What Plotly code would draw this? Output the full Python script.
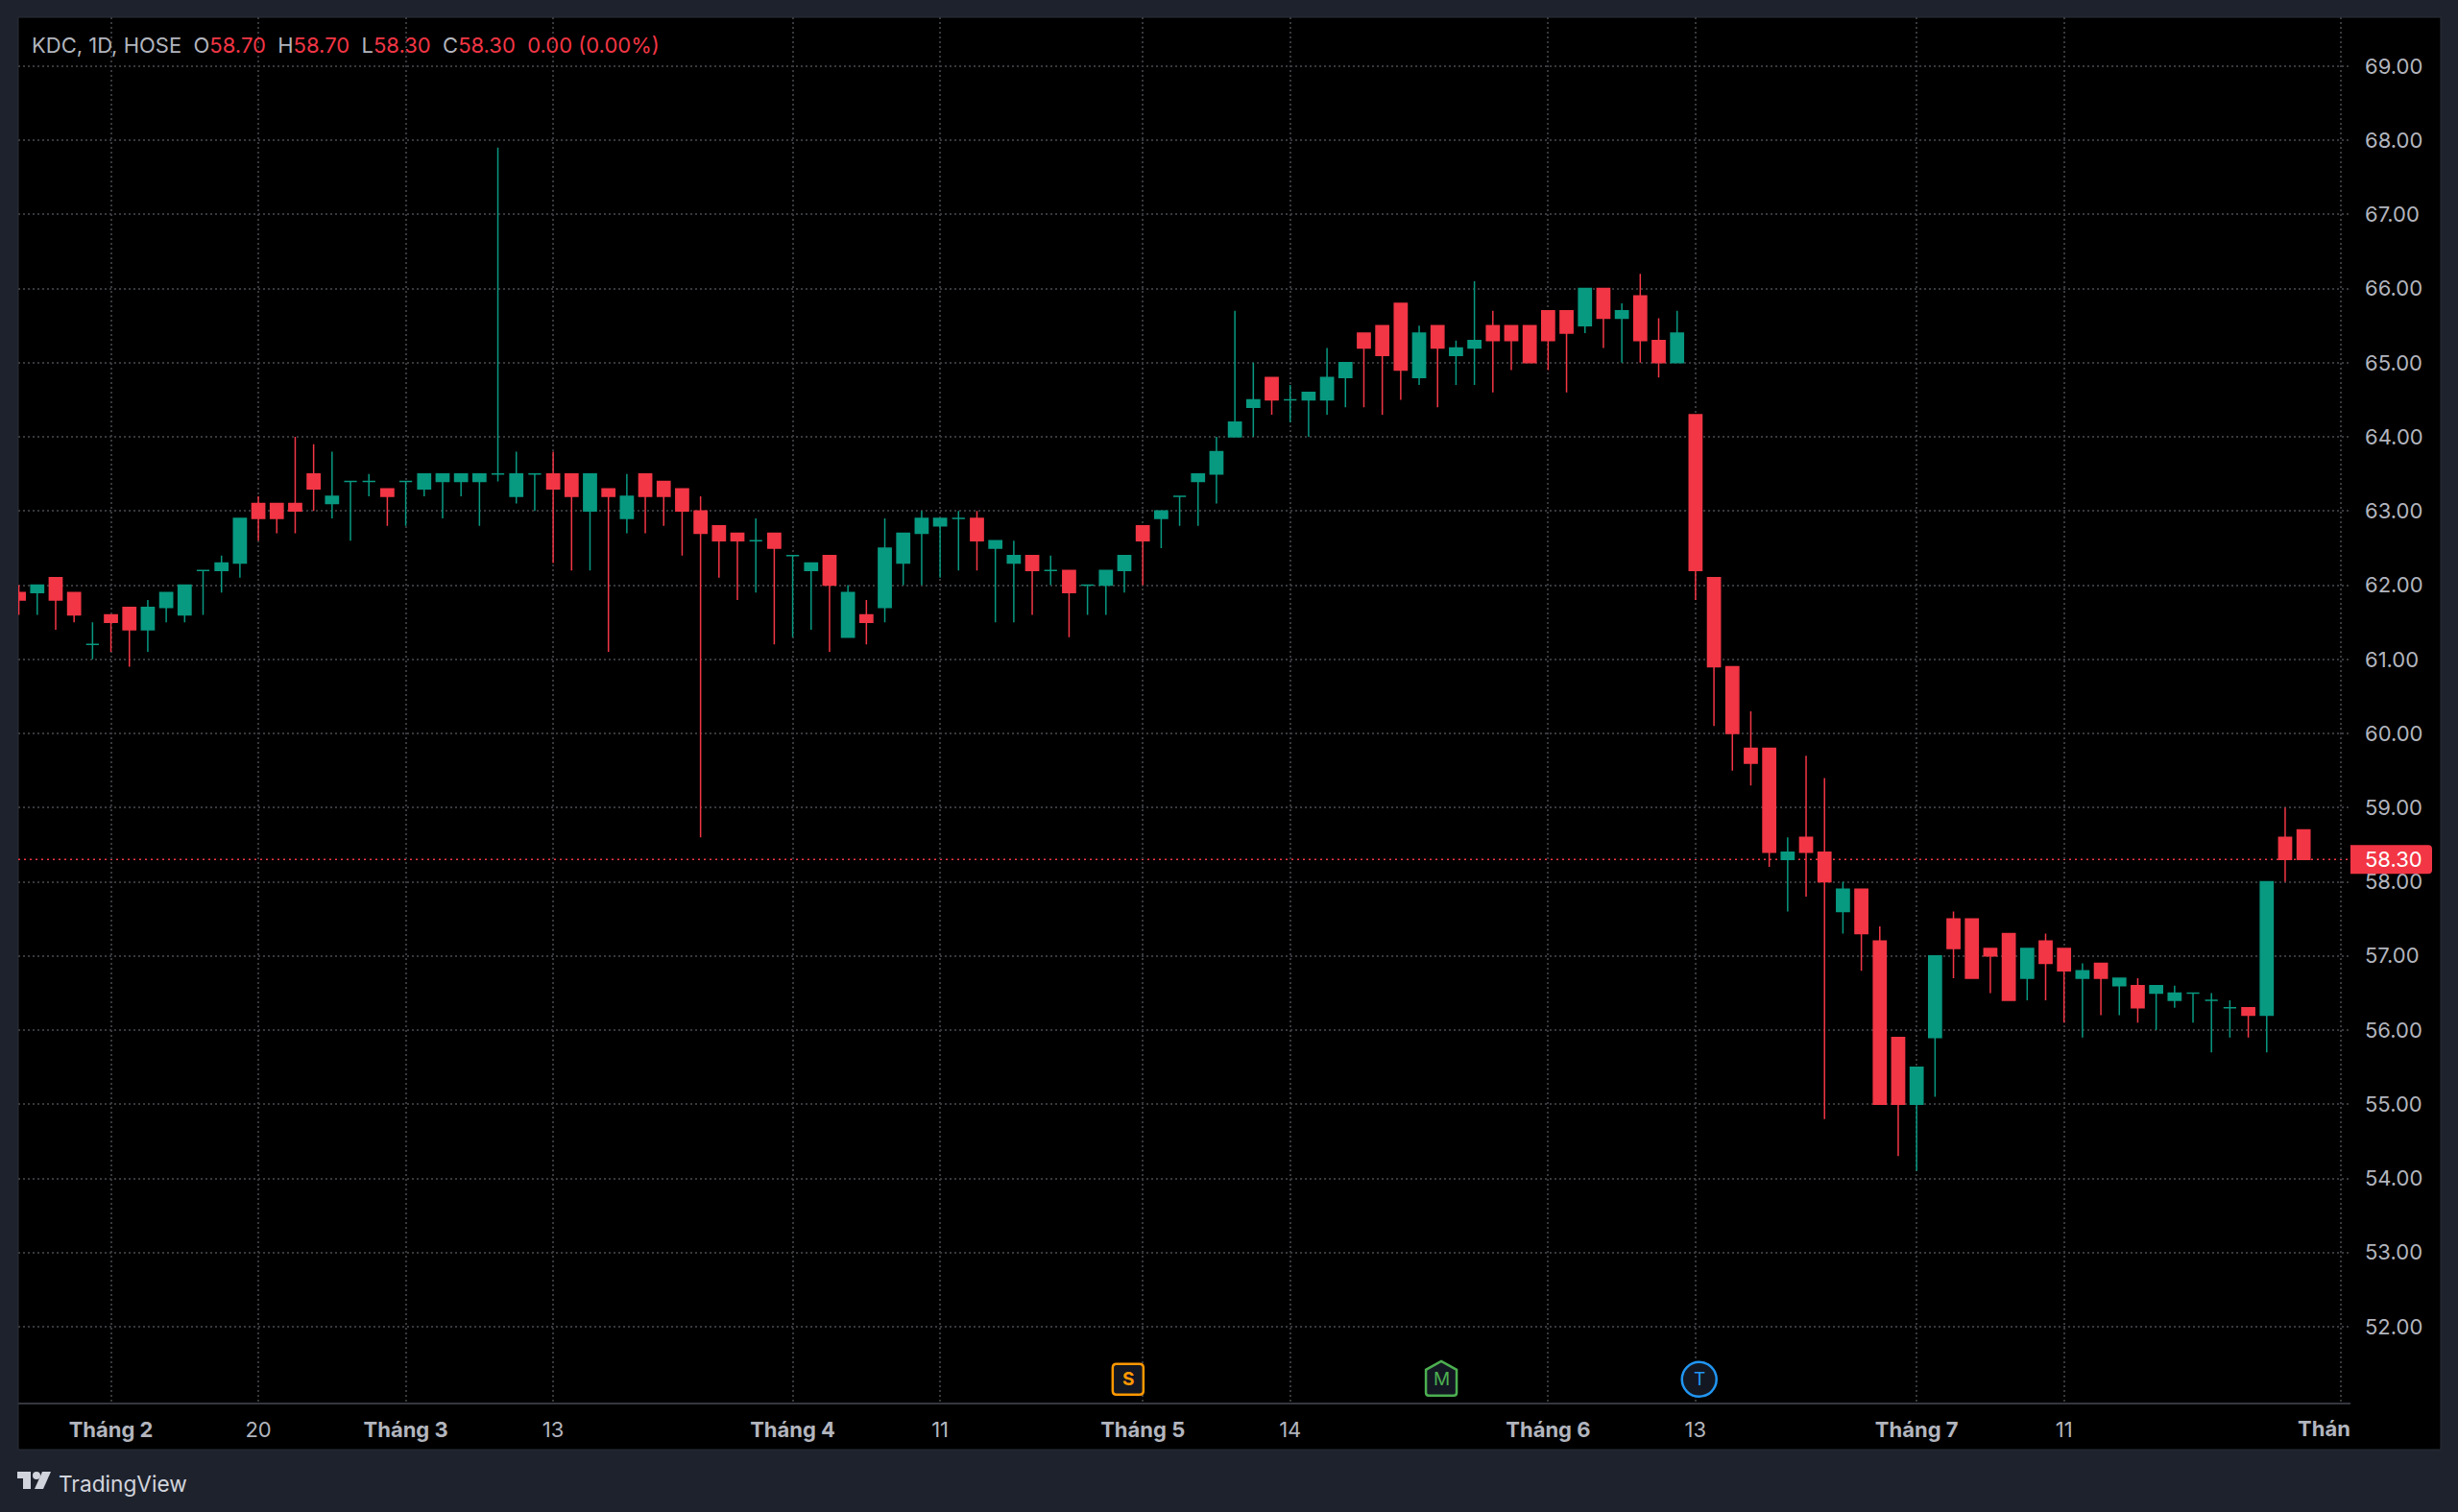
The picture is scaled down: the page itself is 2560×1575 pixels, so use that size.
import plotly.graph_objects as go

# OHLC, one entry per trading session
opens = [61.9,61.9,62.1,61.9,61.2,61.6,61.7,61.4,61.7,61.6,62.2,62.2,62.3,63.1,63.1,63.1,63.5,63.1,63.4,63.4,
         63.3,63.4,63.3,63.4,63.4,63.4,63.5,63.2,63.5,63.5,63.5,63.0,63.3,62.9,63.5,63.4,63.3,63.0,62.8,62.7,
         62.6,62.7,62.4,62.2,62.4,61.3,61.6,61.7,62.3,62.7,62.8,62.9,62.9,62.5,62.3,62.4,62.2,62.2,62.0,62.0,
         62.2,62.8,62.9,63.2,63.4,63.5,64.0,64.4,64.8,64.5,64.5,64.5,64.8,65.4,65.5,65.8,64.8,65.5,65.1,65.2,
         65.5,65.5,65.5,65.7,65.7,65.5,66.0,65.6,65.9,65.3,65.0,64.3,62.1,60.9,59.8,59.8,58.3,58.6,58.4,57.6,
         57.9,57.2,55.9,55.0,55.9,57.5,57.5,57.1,57.3,56.7,57.2,57.1,56.7,56.9,56.6,56.6,56.5,56.4,56.5,56.4,
         56.3,56.3,56.2,58.6,58.7]
highs = [62.0,62.0,62.1,61.9,61.5,61.6,61.7,61.8,61.9,62.0,62.2,62.4,62.9,63.2,63.1,64.0,63.9,63.8,63.4,63.5,
         63.3,63.4,63.5,63.5,63.5,63.5,67.9,63.8,63.5,63.8,63.5,63.5,63.3,63.5,63.5,63.4,63.3,63.2,62.8,62.7,
         62.9,62.7,62.4,62.3,62.4,62.0,61.8,62.9,62.7,63.0,62.9,63.0,63.0,62.6,62.6,62.4,62.4,62.2,62.0,62.2,
         62.4,62.8,63.0,63.2,63.5,64.0,65.7,65.0,64.8,64.7,64.6,65.2,65.0,65.4,65.5,65.8,65.5,65.5,65.3,66.1,
         65.7,65.5,65.5,65.7,65.7,66.0,66.0,65.8,66.2,65.6,65.7,64.3,62.1,60.9,60.3,59.8,58.6,59.7,59.4,58.0,
         57.9,57.4,55.9,55.5,57.0,57.6,57.5,57.1,57.3,57.1,57.3,57.1,56.9,56.9,56.7,56.7,56.6,56.6,56.5,56.5,
         56.4,56.3,58.0,59.0,58.7]
lows = [61.6,61.6,61.4,61.5,61.0,61.1,60.9,61.1,61.5,61.5,61.6,61.9,62.1,62.6,62.7,62.7,63.0,62.9,62.6,63.2,
        62.8,62.8,63.2,62.9,63.2,62.8,63.4,63.1,63.0,62.3,62.2,62.2,61.1,62.7,62.7,62.8,62.4,58.6,62.1,61.8,
        61.9,61.2,61.3,61.4,61.1,61.3,61.2,61.5,62.0,62.0,62.1,62.2,62.2,61.5,61.5,61.6,62.0,61.3,61.6,61.6,
        61.9,62.0,62.5,62.8,62.8,63.1,64.0,64.0,64.3,64.2,64.0,64.3,64.4,64.4,64.3,64.5,64.7,64.4,64.7,64.7,
        64.6,64.9,65.0,64.9,64.6,65.4,65.2,65.0,65.0,64.8,65.0,61.8,60.1,59.5,59.3,58.2,57.6,57.8,54.8,57.3,
        56.8,55.0,54.3,54.1,55.1,56.7,56.7,56.5,56.4,56.4,56.4,56.1,55.9,56.2,56.2,56.1,56.0,56.3,56.1,55.7,
        55.9,55.9,55.7,58.0,58.3]
closes = [61.8,62.0,61.8,61.6,61.2,61.5,61.4,61.7,61.9,62.0,62.2,62.3,62.9,62.9,62.9,63.0,63.3,63.2,63.4,63.4,
          63.2,63.4,63.5,63.5,63.5,63.5,63.5,63.5,63.5,63.3,63.2,63.5,63.2,63.2,63.2,63.2,63.0,62.7,62.6,62.6,
          62.6,62.5,62.4,62.3,62.0,61.9,61.5,62.5,62.7,62.9,62.9,62.9,62.6,62.6,62.4,62.2,62.2,61.9,62.0,62.2,
          62.4,62.6,63.0,63.2,63.5,63.8,64.2,64.5,64.5,64.5,64.6,64.8,65.0,65.2,65.1,64.9,65.4,65.2,65.2,65.3,
          65.3,65.3,65.0,65.3,65.4,66.0,65.6,65.7,65.3,65.0,65.4,62.2,60.9,60.0,59.6,58.4,58.4,58.4,58.0,57.9,
          57.3,55.0,55.0,55.5,57.0,57.1,56.7,57.0,56.4,57.1,56.9,56.8,56.8,56.7,56.7,56.3,56.6,56.5,56.5,56.4,
          56.3,56.2,58.0,58.3,58.3]

month_ticks = [5, 13, 21, 29, 42, 50, 61, 69, 83, 91, 103, 111, 126]
month_labels = ["<b>Tháng 2</b>", "20", "<b>Tháng 3</b>", "13", "<b>Tháng 4</b>", "11", "<b>Tháng 5</b>",
                "14", "<b>Tháng 6</b>", "13", "<b>Tháng 7</b>", "11", ""]
price_ticks = list(range(52, 70))
price_labels = [f"{p:.2f}" for p in price_ticks]

event_x = [60.2, 77.2, 91.2]
event_letters = ["S", "M", "T"]
event_colors = ["#ff9800", "#4caf50", "#2196f3"]
last_price = 58.30

RED, GREEN = "#f23645", "#089981"
PAGE, GRID, AXIS = "#1e222d", "#37393d", "#34373f"
TEXT = "#b2b5be"
FONT = "Inter"
W, H = 2560, 1575
L, R, T, B = 19, 2448, 18, 1461
PX_BAR, X0 = 19.19, 19.6
PX_UNIT = 77.24
Y69 = 68.9

def xp(px): return (px - L) / (R - L)
def yp(px): return (B - px) / (B - T)

up = [i for i in range(len(opens)) if closes[i] >= opens[i]]
dn = [i for i in range(len(opens)) if closes[i] < opens[i]]

def candle(idx, color, name):
    return go.Candlestick(
        x=idx, open=[opens[i] for i in idx], high=[highs[i] for i in idx],
        low=[lows[i] for i in idx], close=[closes[i] for i in idx], name=name,
        whiskerwidth=0, showlegend=False,
        increasing=dict(line=dict(color=color, width=1.5), fillcolor=color),
        decreasing=dict(line=dict(color=color, width=1.5), fillcolor=color))

fig = go.Figure([candle(up, GREEN, "up"), candle(dn, RED, "down")])

shapes = [
    # black panel behind chart, price scale and time scale
    dict(type="rect", xref="paper", yref="paper", layer="below",
         x0=xp(19), x1=xp(2542), y0=yp(1510), y1=yp(18),
         fillcolor="#000000", line=dict(color="#2a2e39", width=1)),
    # last price line
    dict(type="line", xref="x", yref="y", layer="below",
         x0=(L - X0) / PX_BAR, x1=(R - X0) / PX_BAR, y0=last_price, y1=last_price,
         line=dict(color=RED, width=1.5, dash="2px,4px")),
    # last price tag
    dict(type="path", xref="paper", yref="y", xsizemode="pixel", ysizemode="pixel",
         xanchor=1, yanchor=last_price, layer="above", fillcolor=RED, line=dict(width=0),
         path="M 0 -15 L 81 -15 Q 85 -15 85 -11 L 85 11 Q 85 15 81 15 L 0 15 Z"),
]
annos = [
    dict(xref="paper", yref="y", x=xp(2461), y=last_price, xanchor="left", yanchor="middle",
         text=f"{last_price:.2f}", showarrow=False, font=dict(family=FONT, size=22, color="#ffffff")),
    dict(xref="paper", yref="paper", x=xp(2450), y=yp(1488), xanchor="right", yanchor="middle",
         text="<b>Thán</b>", showarrow=False, font=dict(family=FONT, size=22, color=TEXT)),
    dict(xref="paper", yref="paper", x=xp(31), y=yp(47), xanchor="left", yanchor="middle", showarrow=False,
         font=dict(family=FONT, size=22, color=TEXT),
         text=(f"KDC, 1D, HOSE  O<span style='color:{RED}'>58.70</span>  H<span style='color:{RED}'>58.70</span>"
               f"  L<span style='color:{RED}'>58.30</span>  C<span style='color:{RED}'>58.30</span>"
               f"  <span style='color:{RED}'>0.00 (0.00%)</span>")),
    dict(xref="paper", yref="paper", x=xp(59), y=yp(1545), xanchor="left", yanchor="middle",
         text="TradingView", showarrow=False, font=dict(family=FONT, size=22.7, color="#d1d4dc")),
]

EVENT_Y = 51.29
for x, letter, color in zip(event_x, event_letters, event_colors):
    common = dict(xref="x", yref="y", xsizemode="pixel", ysizemode="pixel", xanchor=x, yanchor=EVENT_Y,
                  layer="above", fillcolor="#131722", line=dict(color=color, width=2.5))
    if letter == "S":
        shapes.append(dict(type="path", **common,
            path="M -12 -16 L 12 -16 Q 16 -16 16 -12 L 16 12 Q 16 16 12 16 L -12 16 Q -16 16 -16 12 L -16 -12 Q -16 -16 -12 -16 Z"))
    elif letter == "M":
        shapes.append(dict(type="path", **common,
            path="M -13 -17 L 13 -17 Q 16 -17 16 -14 L 16 10 L 0 19 L -16 10 L -16 -14 Q -16 -17 -13 -17 Z"))
    else:
        shapes.append(dict(type="circle", **common, x0=-18, x1=18, y0=-18, y1=18))
    annos.append(dict(xref="x", yref="y", x=x, y=EVENT_Y, showarrow=False,
                      text=f"<b>{letter}</b>" if letter == "S" else letter,
                      xanchor="center", yanchor="middle",
                      font=dict(family=FONT, size=19, color=color)))

# TradingView logo mark
shapes += [
    dict(type="path", xref="paper", yref="paper", fillcolor="#d1d4dc", line=dict(width=0), layer="above",
         path=(f"M {xp(18)} {yp(1533)} L {xp(32)} {yp(1533)} L {xp(32)} {yp(1551)} L {xp(24)} {yp(1551)} "
               f"L {xp(24)} {yp(1540)} L {xp(18)} {yp(1540)} Z")),
    dict(type="circle", xref="paper", yref="paper", fillcolor="#d1d4dc", line=dict(width=0), layer="above",
         x0=xp(34), x1=xp(42), y0=yp(1541), y1=yp(1533)),
    dict(type="path", xref="paper", yref="paper", fillcolor="#d1d4dc", line=dict(width=0), layer="above",
         path=f"M {xp(44)} {yp(1533)} L {xp(53)} {yp(1533)} L {xp(45)} {yp(1551)} L {xp(36)} {yp(1551)} Z"),
]

fig.update_layout(
    width=W, height=H, margin=dict(l=L, r=W - R, t=T, b=H - B, pad=0),
    paper_bgcolor=PAGE, plot_bgcolor="#000000", showlegend=False, hovermode=False,
    boxmode="overlay", boxgap=0.31, boxgroupgap=0, shapes=shapes, annotations=annos,
    font=dict(family=FONT, size=22, color=TEXT),
    xaxis=dict(range=[(L - X0) / PX_BAR, (R - X0) / PX_BAR], rangeslider=dict(visible=False),
               tickmode="array", tickvals=month_ticks, ticktext=month_labels,
               showgrid=True, gridcolor=GRID, griddash="2px,3px", gridwidth=1.5, zeroline=False,
               showline=True, linecolor=AXIS, linewidth=2, ticks="", ticklabelstandoff=8,
               tickfont=dict(family=FONT, size=22, color=TEXT)),
    yaxis=dict(range=[69 - (B - Y69) / PX_UNIT, 69 + (Y69 - T) / PX_UNIT], side="right",
               tickmode="array", tickvals=price_ticks, ticktext=price_labels,
               showgrid=True, gridcolor=GRID, griddash="2px,3px", gridwidth=1.5, zeroline=False,
               showline=False, ticks="", ticklabelstandoff=14,
               tickfont=dict(family=FONT, size=22, color=TEXT)),
)

fig.write_html("out.html", config=dict(displayModeBar=False), post_script=(
    "document.body.style.margin='0';document.body.style.background='#1e222d';"
    "document.documentElement.style.overflow='hidden';"))
